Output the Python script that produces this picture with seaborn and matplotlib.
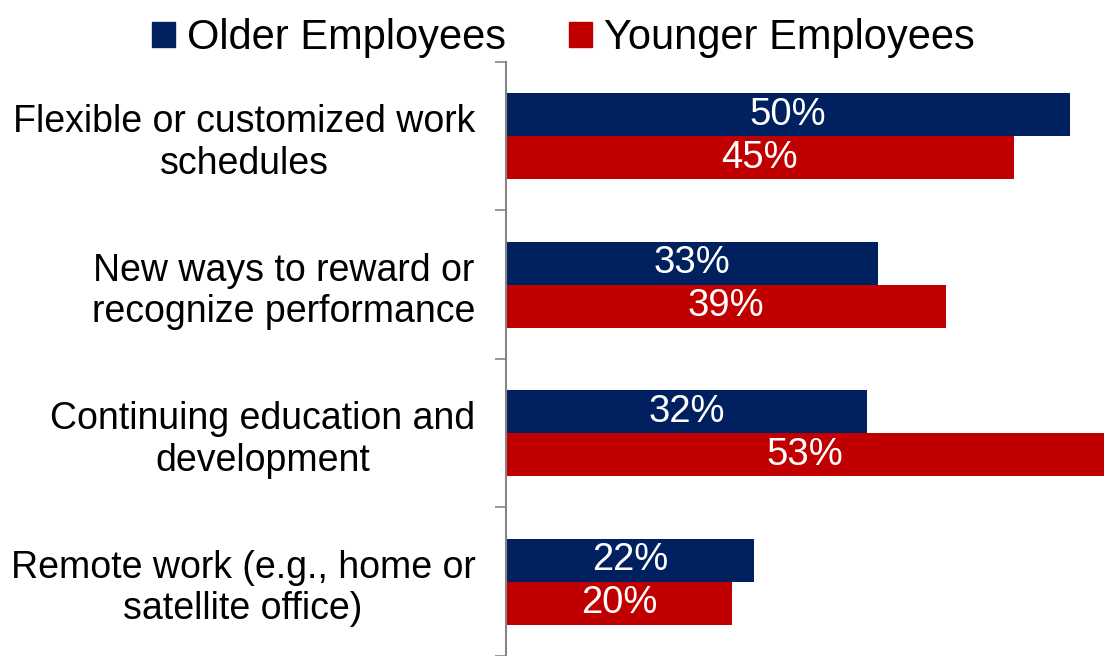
# Employee program preferences: older vs younger employees
import pandas as pd
import matplotlib
matplotlib.use("Agg")
import matplotlib.pyplot as plt
import seaborn as sns

# Data
categories = [
    "Flexible or customized work\nschedules",
    "New ways to reward or\nrecognize performance",
    "Continuing education and\ndevelopment",
    "Remote work (e.g., home or\nsatellite office)",
]
older = [50, 33, 32, 22]
younger = [45, 39, 53, 20]
groups = ["Older Employees", "Younger Employees"]

df = pd.DataFrame({
    "category": categories * 2,
    "value": older + younger,
    "group": [groups[0]] * len(categories) + [groups[1]] * len(categories),
})

sns.set_style("white")
plt.rcParams["font.family"] = ["Liberation Sans", "DejaVu Sans"]
plt.rcParams["text.color"] = "black"
plt.rcParams["ytick.labelcolor"] = "black"

colors = {"Older Employees": "#002060", "Younger Employees": "#C00000"}

fig = plt.figure(figsize=(11.05, 6.56), dpi=100)
ax = fig.add_axes([0.458, 0.0, 0.542, 0.9055])

sns.barplot(data=df, x="value", y="category", hue="group", hue_order=groups,
            order=categories, palette=colors, width=0.58, orient="h",
            ax=ax, saturation=1, linewidth=0, legend=True)

# value labels in the bars
for cont in ax.containers:
    ax.bar_label(cont, labels=[f"{v:.0f}%" for v in cont.datavalues],
                 label_type="center", color="white", fontsize=27.5)

ax.set_xlim(0, 53.1)
ax.set_ylim(3.5, -0.5)
ax.set_xlabel("")
ax.set_ylabel("")
ax.set_xticks([])

# ticks between categories
ax.set_yticks([-0.5, 0.5, 1.5, 2.5, 3.5], minor=True)
ax.tick_params(axis="y", which="minor", length=8, width=1.2, color="#868686", left=True)
ax.tick_params(axis="y", which="major", length=0, pad=22, labelsize=27, labelcolor="black")
for lbl in ax.get_yticklabels():
    lbl.set_multialignment("center")

for s in ["top", "right", "bottom"]:
    ax.spines[s].set_visible(False)
ax.spines["left"].set_color("#868686")
ax.spines["left"].set_linewidth(1.5)

ax.get_legend().remove()
handles = [plt.Rectangle((0, 0), 1, 1, color=colors[g]) for g in groups]
fig.legend(handles, groups, loc="upper center", bbox_to_anchor=(0.51, 1.03),
           ncol=2, frameon=False, fontsize=30, handlelength=0.55, handleheight=0.55,
           handletextpad=0.3, columnspacing=1.5, labelcolor="black")

fig.savefig("out.png", dpi=100)
